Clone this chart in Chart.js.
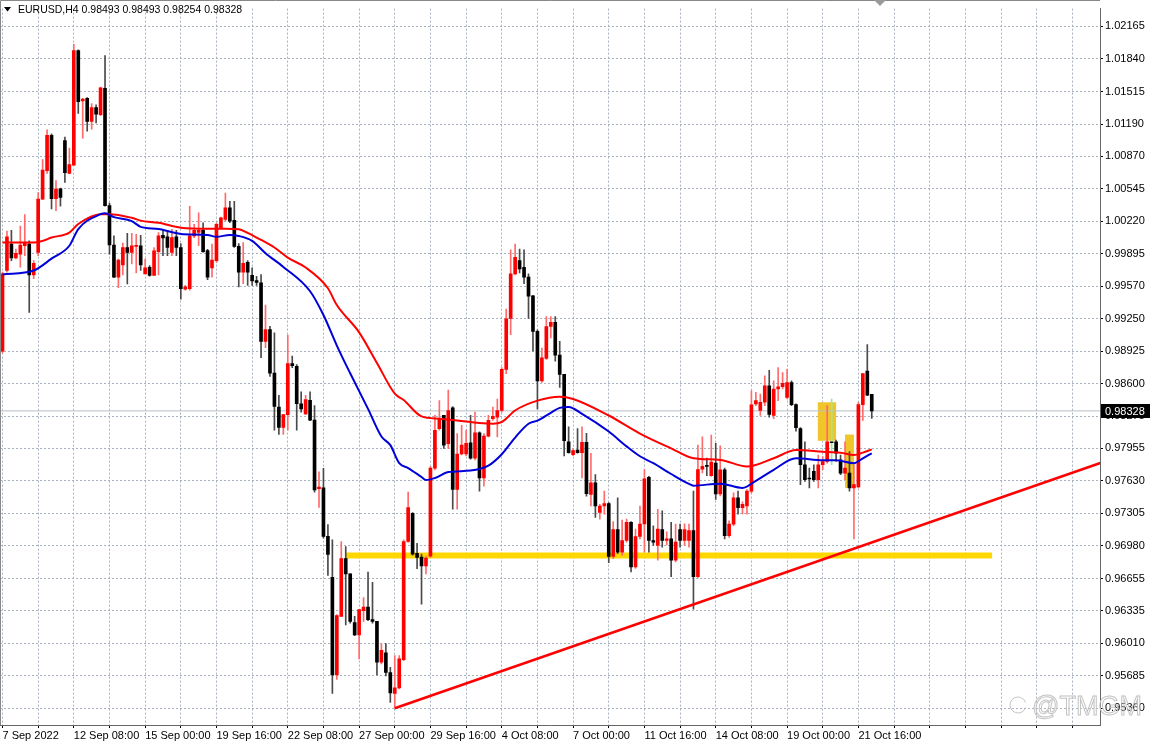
<!DOCTYPE html>
<html>
<head>
<meta charset="utf-8">
<script src="https://cdn.jsdelivr.net/npm/chart.js@4.4.0/dist/chart.umd.min.js"></script>
<style>
  html, body { margin: 0; padding: 0; background: #fff; }
  canvas { display: block; }
</style>
</head>
<body>
<canvas id="eurusdChart" width="1153" height="744"></canvas>
<script>
// EURUSD H4 bars, index 0 = 7 Sep 16:00
const opens = [
  0.98924, 0.99729, 0.99992, 0.99854, 0.99893, 0.99976, 0.99992, 0.99686, 0.99910, 1.00442,
  1.00725, 1.01077, 1.00446, 1.00544, 1.01027, 1.00699, 1.00781, 1.01925, 1.01422, 1.01448,
  1.01218, 1.01356, 1.01284, 1.01547, 1.00377, 0.99982, 0.99663, 0.99785, 0.99959, 0.99910,
  0.99973, 0.99976, 0.99696, 0.99762, 0.99680, 0.99916, 1.00081, 1.00064, 0.99910, 1.00064,
  0.99959, 0.99542, 0.99548, 1.00074, 1.00110, 1.00130, 0.99927, 0.99755, 0.99828, 1.00156,
  1.00239, 1.00354, 1.00229, 0.99970, 0.99713, 0.99811, 0.99680, 0.99629, 0.99605, 0.99021,
  0.99139, 0.98705, 0.98365, 0.98162, 0.98291, 0.98800, 0.98773, 0.98399, 0.98298, 0.98433,
  0.98236, 0.97551, 0.97561, 0.97075, 0.96668, 0.95693, 0.96277, 0.96855, 0.96702, 0.96216,
  0.96091, 0.96335, 0.96369, 0.96244, 0.96227, 0.95819, 0.95914, 0.95717, 0.95507, 0.95564,
  0.95846, 0.97024, 0.97306, 0.96906, 0.96870, 0.96780, 0.96879, 0.97757, 0.98151, 0.98283,
  0.98000, 0.98358, 0.97543, 0.97898, 0.97898, 0.98010, 0.97855, 0.98109, 0.97658, 0.98076,
  0.98250, 0.98266, 0.98332, 0.98743, 0.99252, 0.99696, 0.99828, 0.99762, 0.99663, 0.99476,
  0.99121, 0.98628, 0.98851, 0.99170, 0.99213, 0.98884, 0.98694, 0.98020, 0.97892, 0.97938,
  0.97912, 0.98014, 0.97494, 0.97609, 0.97314, 0.97379, 0.97402, 0.96876, 0.97143, 0.96919,
  0.97034, 0.97215, 0.96771, 0.97074, 0.97199, 0.97665, 0.97034, 0.96985, 0.97143, 0.97034,
  0.97051, 0.96837, 0.97143, 0.97034, 0.97034, 0.97133, 0.96673, 0.97747, 0.97784, 0.97682,
  0.97806, 0.97500, 0.97740, 0.97083, 0.97198, 0.97461, 0.97362, 0.97379, 0.97527, 0.98398,
  0.98332, 0.98414, 0.98579, 0.98283, 0.98546, 0.98569, 0.98463, 0.98611, 0.98391, 0.98151,
  0.97790, 0.97658, 0.97724, 0.97642, 0.97790, 0.97823, 0.98020, 0.98020, 0.97839, 0.97707,
  0.97707, 0.97560, 0.97569, 0.98391, 0.98726, 0.98493
];
const highs = [
  0.99713, 1.00123, 1.00130, 0.99943, 1.00173, 1.00288, 1.00025, 0.99828, 1.00508, 1.00837,
  1.01133, 1.01093, 1.00626, 1.00551, 1.01060, 1.00952, 1.01987, 1.01931, 1.01448, 1.01455,
  1.01396, 1.01382, 1.01560, 1.01875, 1.00403, 1.00074, 0.99844, 1.00002, 1.00100, 1.00100,
  1.00090, 1.00081, 0.99844, 0.99778, 0.99959, 1.00107, 1.00124, 1.00130, 1.00140, 1.00130,
  0.99999, 0.99581, 1.00370, 1.00189, 1.00304, 1.00206, 0.99940, 0.99992, 1.00206, 1.00262,
  1.00502, 1.00419, 1.00419, 0.99999, 1.00008, 0.99828, 0.99757, 0.99672, 0.99689, 0.99384,
  0.99173, 0.99106, 0.98484, 0.98291, 0.99085, 0.98875, 0.98790, 0.98518, 0.98484, 0.98518,
  0.98382, 0.97720, 0.97754, 0.97194, 0.97041, 0.96294, 0.97024, 0.96973, 0.96702, 0.96277,
  0.96345, 0.96464, 0.96719, 0.96617, 0.96227, 0.96006, 0.96006, 0.95769, 0.95887, 0.95887,
  0.97041, 0.97517, 0.97313, 0.97007, 0.96900, 0.96880, 0.97773, 0.98283, 0.98431, 0.98283,
  0.98536, 0.98371, 0.98102, 0.98184, 0.98135, 0.98283, 0.98316, 0.98118, 0.98102, 0.98283,
  0.98365, 0.98447, 0.98759, 0.99344, 0.99936, 0.99992, 0.99943, 0.99936, 0.99696, 0.99482,
  0.99137, 0.98956, 0.99269, 0.99269, 0.99269, 0.99022, 0.98694, 0.98168, 0.97950, 0.98152,
  0.98168, 0.98103, 0.97905, 0.97692, 0.97396, 0.97527, 0.97412, 0.97222, 0.97461, 0.97238,
  0.97248, 0.97222, 0.97149, 0.97379, 0.97741, 0.97675, 0.97182, 0.97346, 0.97330, 0.97120,
  0.97215, 0.97199, 0.97199, 0.97200, 0.97199, 0.97527, 0.97987, 0.98070, 0.97856, 0.98086,
  0.98003, 0.97980, 0.97757, 0.97231, 0.97510, 0.97527, 0.97420, 0.97543, 0.98529, 0.98513,
  0.98496, 0.98677, 0.98733, 0.98628, 0.98759, 0.98710, 0.98743, 0.98628, 0.98398, 0.98161,
  0.98020, 0.97757, 0.97790, 0.97888, 0.97872, 0.98381, 0.98447, 0.98036, 0.97888, 0.98020,
  0.97921, 0.97790, 0.98414, 0.98700, 0.98989, 0.98493
];
const lows = [
  0.98907, 0.99713, 0.99828, 0.99844, 0.99762, 0.99877, 0.99311, 0.99647, 0.99877, 1.00436,
  1.00699, 1.00344, 1.00327, 1.00370, 1.00607, 1.00699, 1.00781, 1.01297, 1.01050, 1.01120,
  1.01139, 1.01202, 1.01274, 1.00370, 0.99893, 0.99657, 0.99558, 0.99686, 0.99594, 0.99795,
  0.99706, 0.99729, 0.99696, 0.99673, 0.99680, 0.99686, 0.99877, 0.99877, 0.99877, 0.99877,
  0.99443, 0.99532, 0.99532, 1.00058, 0.99976, 0.99910, 0.99637, 0.99663, 0.99811, 1.00150,
  1.00222, 1.00206, 0.99960, 0.99565, 0.99598, 0.99581, 0.99581, 0.99581, 0.98858, 0.98960,
  0.98671, 0.98135, 0.98094, 0.98094, 0.98135, 0.98760, 0.98135, 0.98314, 0.98291, 0.98230,
  0.97517, 0.97364, 0.97058, 0.96685, 0.95507, 0.95649, 0.96277, 0.96193, 0.96210, 0.96085,
  0.95853, 0.96227, 0.96234, 0.96210, 0.95693, 0.95802, 0.95683, 0.95419, 0.95361, 0.95554,
  0.95836, 0.97014, 0.96889, 0.96753, 0.96400, 0.96700, 0.96869, 0.97740, 0.98135, 0.97954,
  0.97954, 0.97346, 0.97346, 0.97888, 0.97880, 0.97846, 0.97839, 0.97527, 0.97576, 0.98069,
  0.98233, 0.98069, 0.98316, 0.98700, 0.99088, 0.99686, 0.99706, 0.99597, 0.99252, 0.98924,
  0.98348, 0.98611, 0.98841, 0.99055, 0.98825, 0.98562, 0.97879, 0.97905, 0.97880, 0.97905,
  0.97659, 0.97478, 0.97379, 0.97264, 0.97248, 0.97297, 0.96814, 0.96853, 0.96903, 0.96886,
  0.97018, 0.96722, 0.96755, 0.97051, 0.96919, 0.96919, 0.96985, 0.96837, 0.96968, 0.96990,
  0.96673, 0.96821, 0.96968, 0.96985, 0.96968, 0.96350, 0.96660, 0.97708, 0.97682, 0.97675,
  0.97444, 0.97480, 0.97050, 0.97066, 0.97182, 0.97297, 0.97300, 0.97297, 0.97510, 0.98381,
  0.98283, 0.98381, 0.98266, 0.98250, 0.98431, 0.98546, 0.98447, 0.98381, 0.98125, 0.97592,
  0.97625, 0.97560, 0.97625, 0.97560, 0.97740, 0.97806, 0.97790, 0.97823, 0.97691, 0.97642,
  0.97527, 0.97050, 0.97560, 0.98233, 0.98480, 0.98254
];
const closes = [
  0.99696, 1.00064, 0.99854, 0.99900, 0.99982, 1.00002, 0.99686, 0.99801, 1.00442, 1.00732,
  1.01077, 1.00446, 1.00541, 1.00459, 1.00705, 1.00787, 1.01925, 1.01415, 1.01441, 1.01218,
  1.01356, 1.01290, 1.01553, 1.00377, 0.99985, 0.99663, 0.99834, 0.99959, 0.99910, 0.99976,
  0.99976, 0.99785, 0.99755, 0.99680, 0.99926, 1.00074, 1.00055, 0.99959, 1.00058, 0.99959,
  0.99548, 0.99565, 1.00074, 1.00130, 1.00130, 0.99917, 0.99663, 0.99834, 1.00189, 1.00255,
  1.00354, 1.00222, 0.99970, 0.99713, 0.99801, 0.99713, 0.99624, 0.99611, 0.99021, 0.99139,
  0.98705, 0.98372, 0.98162, 0.98291, 0.98800, 0.98780, 0.98399, 0.98348, 0.98440, 0.98236,
  0.97540, 0.97568, 0.97075, 0.96896, 0.95693, 0.96284, 0.96855, 0.96702, 0.96227, 0.96091,
  0.96345, 0.96369, 0.96244, 0.96227, 0.95819, 0.95938, 0.95717, 0.95514, 0.95564, 0.95853,
  0.97024, 0.97364, 0.96899, 0.96865, 0.96780, 0.96860, 0.97757, 0.98135, 0.98250, 0.97987,
  0.98332, 0.97543, 0.97898, 0.97987, 0.98003, 0.97855, 0.98109, 0.97658, 0.98076, 0.98233,
  0.98273, 0.98332, 0.98743, 0.99246, 0.99696, 0.99860, 0.99745, 0.99663, 0.99472, 0.99121,
  0.98628, 0.98858, 0.99170, 0.99213, 0.98884, 0.98693, 0.98030, 0.97912, 0.97932, 0.97912,
  0.98014, 0.97501, 0.97609, 0.97379, 0.97379, 0.97402, 0.96876, 0.97143, 0.96919, 0.97034,
  0.97215, 0.96771, 0.97074, 0.97199, 0.97649, 0.97034, 0.97018, 0.97149, 0.97034, 0.97051,
  0.96837, 0.97018, 0.97034, 0.97143, 0.97133, 0.96673, 0.97741, 0.97774, 0.97774, 0.97818,
  0.97500, 0.97740, 0.97083, 0.97198, 0.97461, 0.97362, 0.97395, 0.97527, 0.98388, 0.98431,
  0.98414, 0.98579, 0.98293, 0.98546, 0.98569, 0.98602, 0.98611, 0.98391, 0.98161, 0.97790,
  0.97642, 0.97648, 0.97642, 0.97790, 0.97823, 0.98020, 0.98010, 0.97905, 0.97707, 0.97757,
  0.97560, 0.97592, 0.98391, 0.98700, 0.98486, 0.98328
];

// time labels, one every 16 bars
const timeLabels = ['7 Sep 2022', '12 Sep 08:00', '15 Sep 00:00', '19 Sep 16:00', '22 Sep 08:00',
  '27 Sep 00:00', '29 Sep 16:00', '4 Oct 08:00', '7 Oct 00:00', '11 Oct 16:00',
  '14 Oct 08:00', '19 Oct 00:00', '21 Oct 16:00'];
const priceTicks = [1.02165, 1.01840, 1.01515, 1.01190, 1.00870, 1.00545, 1.00220, 0.99895,
  0.99570, 0.99250, 0.98925, 0.98600, 0.98275, 0.97955, 0.97630, 0.97305, 0.96980, 0.96655,
  0.96335, 0.96010, 0.95685, 0.95360];

// moving averages
const redMaIdx = [0, 7, 9, 11, 15, 17, 22, 24, 29, 31, 35, 40, 46, 50, 53, 55, 57, 61, 64, 68,
  73, 75, 80, 84, 88, 90, 94, 98, 102, 107, 110, 112, 115, 120, 125, 128, 136, 143, 150, 155,
  161, 167, 173, 178, 184, 188, 191, 193, 195];
const redMaVal = [1.00008, 1.00008, 1.00025, 1.00058, 1.00107, 1.00193, 1.00291, 1.00291, 1.00255, 1.00227,
  1.00205, 1.00156, 1.00146, 1.00146, 1.00140, 1.00104, 1.00058, 0.99959, 0.99857, 0.99759,
  0.99552, 0.99384, 0.99112, 0.98806, 0.98500, 0.98437, 0.98273, 0.98250, 0.98233, 0.98207,
  0.98200, 0.98217, 0.98332, 0.98430, 0.98470, 0.98447, 0.98282, 0.98102, 0.97954, 0.97855,
  0.97839, 0.97773, 0.97855, 0.97937, 0.97921, 0.97911, 0.97888, 0.97911, 0.97944];
const blueMaIdx = [0, 7, 11, 15, 17, 22, 23, 25, 29, 31, 35, 40, 46, 48, 51, 53, 56, 59, 63, 69,
  72, 75, 78, 82, 85, 87, 89, 91, 94, 95, 97, 100, 105, 109, 112, 115, 118, 120, 123, 125,
  127, 130, 136, 140, 143, 146, 150, 154, 155, 161, 166, 169, 173, 178, 184, 187, 191, 193, 195];
const blueMaVal = [0.99690, 0.99729, 0.99847, 0.99976, 1.00143, 1.00291, 1.00301, 1.00262, 1.00222, 1.00165,
  1.00143, 1.00094, 1.00084, 1.00065, 1.00084, 1.00074, 1.00025, 0.99902, 0.99765, 0.99522,
  0.99285, 0.98980, 0.98703, 0.98348, 0.98072, 0.97986, 0.97806, 0.97757, 0.97668, 0.97638,
  0.97658, 0.97717, 0.97732, 0.97781, 0.97895, 0.98062, 0.98200, 0.98230, 0.98309, 0.98358,
  0.98368, 0.98299, 0.98122, 0.97974, 0.97875, 0.97806, 0.97698, 0.97599, 0.97582, 0.97602,
  0.97559, 0.97629, 0.97740, 0.97855, 0.97836, 0.97836, 0.97806, 0.97855, 0.97905];

// drawn objects
const supportIdx = [77, 222];
const supportVal = [0.96884, 0.96884];
const trendIdx = [88, 250];
const trendVal = [0.95360, 0.97865];
const zoneFrom = [182.9, 189.0];
const zoneTo = [187.0, 191.0];
const zoneHigh = [0.98414, 0.98092];
const zoneLow = [0.98030, 0.97559];

document.addEventListener('DOMContentLoaded', function () {
    const last = closes.length - 1;
    const xMin = -0.56, xMax = 246.2;

    const wicks = opens.map((o, i) => ({ x: i, y: [lows[i], highs[i]] }));
    const bodies = opens.map((o, i) => {
        let lo = Math.min(o, closes[i]), hi = Math.max(o, closes[i]);
        if (hi - lo < 0.0001) {
            const m = (hi + lo) / 2;
            lo = m - 0.00005;
            hi = m + 0.00005;
        }
        return { x: i, y: [lo, hi] };
    });
    const bodyColors = opens.map((o, i) => closes[i] >= o ? '#ff0000' : '#000000');
    const wickColors = opens.map((o, i) => i === 186 ? '#9be89b' : (closes[i] >= o ? '#ff6b6b' : '#4a4a4a'));

    const toPoints = (xs, ys) => xs.map((v, i) => ({ x: v, y: ys[i] }));

    const overlay = {
        id: 'overlay',
        beforeDatasetsDraw(chart) {
            const { ctx, scales: { x, y } } = chart;
            ctx.save();
            ctx.fillStyle = '#efc52a';
            for (let k = 0; k < zoneFrom.length; k++) {
                const x1 = x.getPixelForValue(zoneFrom[k]);
                const x2 = x.getPixelForValue(zoneTo[k]);
                const y1 = y.getPixelForValue(zoneHigh[k]);
                const y2 = y.getPixelForValue(zoneLow[k]);
                ctx.fillRect(x1, y1, x2 - x1, y2 - y1);
            }
            ctx.restore();
        },
        afterDraw(chart) {
            const { ctx, chartArea: a, scales: { y } } = chart;
            ctx.save();
            // frame
            ctx.strokeStyle = '#888';
            ctx.lineWidth = 1;
            ctx.beginPath();
            ctx.moveTo(0.5, a.bottom);
            ctx.lineTo(0.5, 0.5);
            ctx.lineTo(a.right, 0.5);
            ctx.stroke();

            // header
            ctx.fillStyle = '#000';
            ctx.beginPath();
            ctx.moveTo(4, 7); ctx.lineTo(11, 7); ctx.lineTo(7.5, 11.5);
            ctx.closePath();
            ctx.fill();
            ctx.font = '10.5px "Liberation Sans"';
            ctx.textBaseline = 'middle';
            const ohlc = [opens[last], highs[last], lows[last], closes[last]].map(v => v.toFixed(5)).join(' ');
            ctx.fillText('EURUSD,H4 ' + ohlc, 18, 10);

            ctx.fillStyle = '#9a9a9a';
            ctx.beginPath();
            ctx.moveTo(874, 0); ctx.lineTo(886, 0); ctx.lineTo(880, 6);
            ctx.closePath();
            ctx.fill();

            // last price box
            ctx.font = '11px "Liberation Sans"';
            const py = Math.round(y.getPixelForValue(closes[last]));
            ctx.fillStyle = '#000';
            ctx.fillRect(a.right + 1, py - 7, 49, 14);
            ctx.fillStyle = '#fff';
            ctx.fillText(closes[last].toFixed(5), a.right + 5, py + 0.5);

            // watermark
            ctx.strokeStyle = '#c4c4c4';
            ctx.lineWidth = 1;
            ctx.font = '27px "Liberation Sans"';
            ctx.textBaseline = 'alphabetic';
            ctx.strokeText('@TMGM', 1032, 715);
            ctx.beginPath();
            ctx.arc(1018, 705, 8, 0.3, Math.PI * 1.9);
            ctx.stroke();
            ctx.restore();
        }
    };

    const ctx = document.getElementById('eurusdChart').getContext('2d');
    const eurusdChart = new Chart(ctx, {
        type: 'bar',
        data: {
            datasets: [
                {
                    type: 'line',
                    data: [{ x: xMin, y: closes[last] }, { x: xMax, y: closes[last] }],
                    borderColor: '#b7bfc8',
                    borderWidth: 1,
                    pointRadius: 0,
                    order: 10
                },
                {
                    type: 'line',
                    data: toPoints(supportIdx, supportVal),
                    borderColor: '#ffd700',
                    borderWidth: 6,
                    borderCapStyle: 'butt',
                    pointRadius: 0,
                    order: 9
                },
                {
                    data: wicks,
                    backgroundColor: wickColors,
                    barThickness: 1,
                    grouped: false,
                    order: 8
                },
                {
                    data: bodies,
                    backgroundColor: bodyColors,
                    barThickness: 3,
                    grouped: false,
                    order: 7
                },
                {
                    type: 'line',
                    data: toPoints(redMaIdx, redMaVal),
                    borderColor: '#ff0000',
                    borderWidth: 2,
                    pointRadius: 0,
                    cubicInterpolationMode: 'monotone',
                    order: 3
                },
                {
                    type: 'line',
                    data: toPoints(blueMaIdx, blueMaVal),
                    borderColor: '#0000d8',
                    borderWidth: 2,
                    pointRadius: 0,
                    cubicInterpolationMode: 'monotone',
                    order: 2
                },
                {
                    type: 'line',
                    data: toPoints(trendIdx, trendVal),
                    borderColor: '#ff0000',
                    borderWidth: 2.5,
                    pointRadius: 0,
                    order: 1
                }
            ]
        },
        options: {
            responsive: false,
            animation: false,
            devicePixelRatio: 1,
            events: [],
            layout: { padding: 0 },
            plugins: {
                legend: { display: false },
                tooltip: { enabled: false }
            },
            scales: {
                x: {
                    type: 'linear',
                    min: xMin,
                    max: xMax,
                    offset: false,
                    afterBuildTicks: s => {
                        s.ticks = [];
                        for (let v = 0; v <= 240; v += 8) s.ticks.push({ value: v });
                    },
                    afterFit: s => { s.height = 19; },
                    ticks: {
                        autoSkip: false,
                        maxRotation: 0,
                        align: 'start',
                        padding: 1,
                        color: '#000',
                        font: { family: 'Liberation Sans', size: 11 },
                        callback: v => (v % 16 === 0 && timeLabels[v / 16]) ? timeLabels[v / 16] : ''
                    },
                    grid: { offset: false, color: '#a9b3bf', lineWidth: 1, tickLength: 3, tickColor: '#000' },
                    border: { color: '#666', dash: [2, 2] }
                },
                y: {
                    position: 'right',
                    min: 0.95193,
                    max: 1.02343,
                    afterBuildTicks: s => { s.ticks = priceTicks.map(v => ({ value: v })); },
                    afterFit: s => { s.width = 53; },
                    ticks: {
                        autoSkip: false,
                        padding: 2,
                        color: '#000',
                        font: { family: 'Liberation Sans', size: 11 },
                        callback: v => v.toFixed(5)
                    },
                    grid: { color: '#a9b3bf', lineWidth: 1, tickLength: 3, tickColor: '#000' },
                    border: { color: '#666', dash: [2, 2] }
                }
            }
        },
        plugins: [overlay]
    });
});
</script>
</body>
</html>
